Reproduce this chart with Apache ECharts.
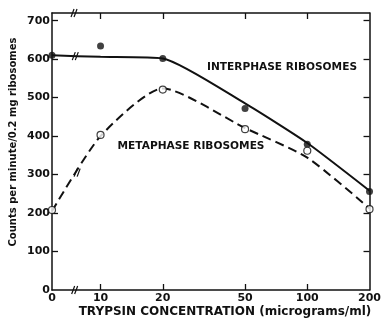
<!DOCTYPE html>
<html><head><meta charset="utf-8">
<script src="https://cdn.jsdelivr.net/npm/echarts@6/dist/echarts.min.js"></script>
<style>html,body{margin:0;padding:0;background:#fff}#c{width:384px;height:322px}</style>
</head><body><div id="c"></div>
<script>
// Data
var concentrations = [0, 10, 20, 50, 100, 200];
var concLabels = ['0', '10', '20', '50', '100', '200'];
var interphasePoints = [610, 634, 602, 472, 379, 256];
var metaphasePoints = [208, 403, 521, 418, 362, 210];
var interphaseCurve = [610, 606, 602, 485, 382, 258];
var metaphaseCurve = [205, 400, 524, 421, 344, 212];
var yTicks = [0, 100, 200, 300, 400, 500, 600, 700];

// broken log-type x scale: 0 sits before the break
var ZERO_POS = -0.78;
function posOf(c) { return c === 0 ? ZERO_POS : Math.log(c / 10) / Math.LN2; }
var xPos = concentrations.map(posOf);
function pairs(vals) { return vals.map(function (v, i) { return [xPos[i], v]; }); }
function labelOf(v) {
  for (var i = 0; i < xPos.length; i++) if (Math.abs(xPos[i] - v) < 1e-6) return concLabels[i];
  return '';
}

var FONT = 'DejaVu Sans';
var chart = echarts.init(document.getElementById('c'), null, { renderer: 'canvas' });
var axisLine = { show: true, onZero: false, lineStyle: { color: '#111', width: 1.5 } };
var tickLine = { color: '#111', width: 1.3 };

chart.setOption({
  animation: false,
  backgroundColor: '#fff',
  grid: { left: 52, right: 13, top: 13, bottom: 32 },
  xAxis: [{
    type: 'value', position: 'bottom', min: ZERO_POS, max: posOf(200),
    axisLine: axisLine, splitLine: { show: false },
    axisTick: { show: true, inside: true, length: 6, customValues: xPos.slice(1, 5), lineStyle: tickLine },
    axisLabel: { customValues: xPos, formatter: labelOf, color: '#111', fontSize: 11, fontWeight: 'bold', fontFamily: FONT, margin: 3 }
  }, {
    type: 'value', position: 'top', min: ZERO_POS, max: posOf(200),
    axisLine: axisLine, splitLine: { show: false },
    axisTick: { show: true, inside: true, length: 6, customValues: xPos.slice(1, 5), lineStyle: tickLine },
    axisLabel: { show: false }
  }],
  yAxis: [{
    type: 'value', position: 'left', min: 0, max: 720,
    axisLine: axisLine, splitLine: { show: false },
    axisTick: { show: true, inside: true, length: 6, customValues: yTicks.slice(1), lineStyle: tickLine },
    axisLabel: { customValues: yTicks, color: '#111', fontSize: 11, fontWeight: 'bold', fontFamily: FONT, margin: 2 }
  }, {
    type: 'value', position: 'right', min: 0, max: 720,
    axisLine: axisLine, splitLine: { show: false },
    axisTick: { show: true, inside: true, length: 6, customValues: yTicks.slice(1), lineStyle: tickLine },
    axisLabel: { show: false }
  }],
  series: [
    { type: 'line', data: pairs(interphaseCurve), smooth: 0.18, showSymbol: false,
      lineStyle: { color: '#111', width: 2 }, z: 2 },
    { type: 'line', data: pairs(metaphaseCurve), smooth: 0.22, showSymbol: false,
      lineStyle: { color: '#111', width: 2, type: [9, 5] }, z: 2 },
    { type: 'scatter', data: pairs(interphasePoints), symbol: 'circle', symbolSize: 7,
      itemStyle: { color: '#111' }, z: 3 },
    { type: 'scatter', data: pairs(metaphasePoints), symbol: 'circle', symbolSize: 7,
      itemStyle: { color: '#fff', borderColor: '#111', borderWidth: 1.2 }, z: 3 }
  ]
});

// axis-break marks "//", axis titles and curve labels
function brk(x, y) {
  var p = chart.convertToPixel({ gridIndex: 0 }, [x, y]);
  return [
    { type: 'line', shape: { x1: p[0] - 4, y1: p[1] + 4, x2: p[0] - 1, y2: p[1] - 4 }, style: { stroke: '#111', lineWidth: 1.2 }, z: 10 },
    { type: 'line', shape: { x1: p[0] - 1, y1: p[1] + 4, x2: p[0] + 2, y2: p[1] - 4 }, style: { stroke: '#111', lineWidth: 1.2 }, z: 10 }
  ];
}
var graphics = [
  { type: 'text', x: 282, y: 67, style: { text: 'INTERPHASE RIBOSOMES', fill: '#111', font: 'bold 10.6px "DejaVu Sans"', align: 'center', verticalAlign: 'middle' } },
  { type: 'text', x: 191, y: 146, style: { text: 'METAPHASE RIBOSOMES', fill: '#111', font: 'bold 10.6px "DejaVu Sans"', align: 'center', verticalAlign: 'middle' } },
  { type: 'text', x: 225, y: 312, style: { text: 'TRYPSIN CONCENTRATION (micrograms/ml)', fill: '#111', font: 'bold 12px "DejaVu Sans"', align: 'center', verticalAlign: 'middle' } },
  { type: 'text', x: 13, y: 142, rotation: Math.PI / 2, style: { text: 'Counts per minute/0.2 mg ribosomes', fill: '#111', font: 'bold 10px "DejaVu Sans"', align: 'center', verticalAlign: 'middle' } }
].concat(brk(-0.41, 720), brk(-0.40, 0), brk(-0.39, 608), brk(-0.36, 305));
chart.setOption({ graphic: graphics });
</script>
</body></html>
